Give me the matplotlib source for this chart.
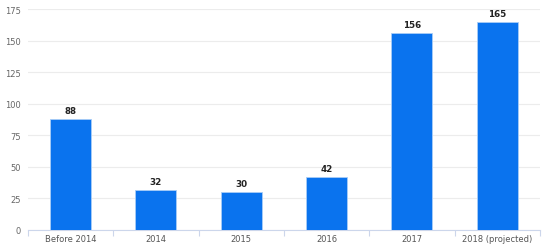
import matplotlib.pyplot as plt
import numpy as np

categories = ["Before 2014", "2014", "2015", "2016", "2017", "2018 (projected)"]
values = [88, 32, 30, 42, 156, 165]
y_ticks = [0, 25, 50, 75, 100, 125, 150, 175]

fig = plt.figure(figsize=(5.54, 2.53), dpi=100)
ax = fig.add_axes([0.0505, 0.087, 0.924, 0.873])

x = np.arange(len(categories))
ax.bar(x, values, width=0.48, color="#0a73ee", edgecolor="#a9cdf7", linewidth=0.6, zorder=3)
for xi, v in zip(x, values):
    ax.text(xi, v + 3, str(v), ha="center", va="bottom", fontsize=6.3,
            fontweight="bold", color="#222222")

ax.set_xlim(-0.5, len(categories) - 0.5)
ax.set_ylim(0, 175)
ax.set_yticks(y_ticks)
ax.set_yticklabels([str(t) for t in y_ticks])
ax.grid(axis="y", color="#ececec", linewidth=0.8, zorder=0)

ax.set_xticks(x)
ax.set_xticklabels(categories)
ax.set_xticks(np.arange(-0.5, len(categories)), minor=True)
ax.tick_params(axis="x", which="major", length=0, labelsize=6, labelcolor="#555555", pad=3)
ax.tick_params(axis="x", which="minor", length=4, color="#ccd6eb", width=0.8, direction="out")
ax.tick_params(axis="y", length=0, labelsize=6, labelcolor="#666666", pad=5)

for side in ["top", "right", "left"]:
    ax.spines[side].set_visible(False)
ax.spines["bottom"].set_color("#ccd6eb")
ax.spines["bottom"].set_linewidth(0.8)

fig.savefig("out.png", dpi=100)
